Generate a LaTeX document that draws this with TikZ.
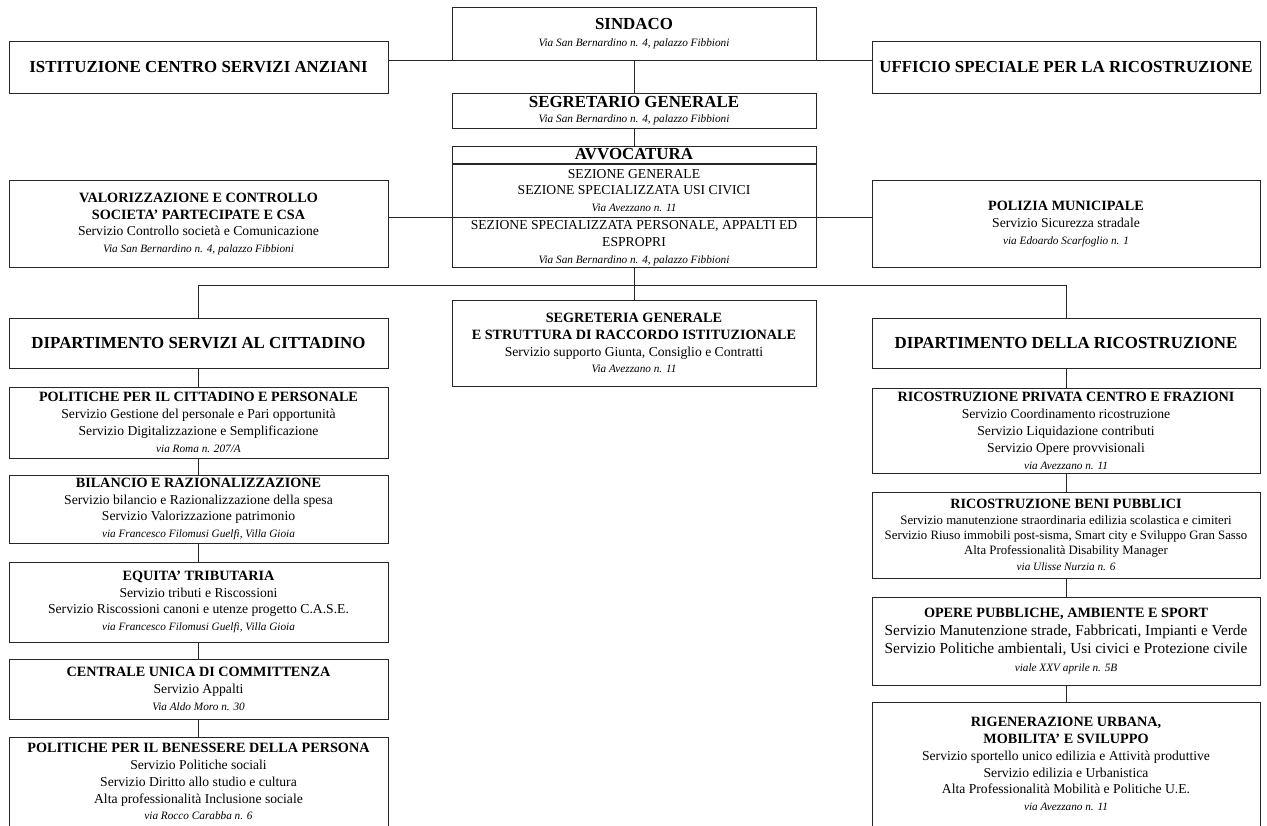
\documentclass[tikz,border=0pt]{standalone}
\usepackage{fontspec}
\setmainfont{Liberation Serif}
\usepackage{tikz}
\usetikzlibrary{positioning}
\newcommand{\pxu}{0.025cm}
\newcommand{\deptfont}{\fontsize{12}{12}\selectfont\bfseries}
\newcommand{\titfont}{\fontsize{10.1}{12}\selectfont\bfseries}
\newcommand{\srvfont}{\fontsize{9.7}{12}\selectfont}
\newcommand{\smlfont}{\fontsize{9.1}{10.9}\selectfont}
\newcommand{\bigfont}{\fontsize{10.9}{12.8}\selectfont}
\newcommand{\adrfont}{\fontsize{8}{12}\selectfont\itshape}
\tikzset{box/.style={draw=black!85, line width=0.7pt, align=center, inner sep=0pt},
  colL/.style={box, minimum width=379*\pxu},
  colM/.style={box, minimum width=364*\pxu},
  colR/.style={box, minimum width=388*\pxu},
  link/.style={draw=black!85, line width=0.7pt}}

\begin{document}
\begin{tikzpicture}[x=\pxu, y=-\pxu, font=\srvfont]
  \clip (0,0) rectangle (1267,825);
  % Vertice
  \node[colM, minimum height=53*\pxu] (sind) at (634,33.5)
    {{\deptfont SINDACO}\\{\adrfont Via San Bernardino n. 4, palazzo Fibbioni}};
  \node[colL, minimum height=52*\pxu] (ist) at (198.5,67)
    {\deptfont ISTITUZIONE CENTRO SERVIZI ANZIANI};
  \node[colR, minimum height=52*\pxu] (uff) at (1066,67)
    {\deptfont UFFICIO SPECIALE PER LA RICOSTRUZIONE};
  \node[colM, minimum height=35*\pxu] (segrg) at (634,110.5)
    {{\deptfont SEGRETARIO GENERALE}\\[-1.5pt]{\adrfont Via San Bernardino n. 4, palazzo Fibbioni}};

  % Avvocatura
  \node[colM, minimum height=17*\pxu] (avv) at (634,154.5) {\deptfont AVVOCATURA};
  \node[colM, minimum height=53*\pxu, below=0pt of avv] (avvA)
    {SEZIONE GENERALE\\SEZIONE SPECIALIZZATA USI CIVICI\\{\adrfont Via Avezzano n. 11}};
  \node[colM, minimum height=50*\pxu, below=0pt of avvA] (avvB)
    {SEZIONE SPECIALIZZATA PERSONALE, APPALTI ED\\ESPROPRI\\{\adrfont Via San Bernardino n. 4, palazzo Fibbioni}};

  \node[colL, minimum height=87*\pxu] (valor) at (198.5,224)
    {{\titfont VALORIZZAZIONE E CONTROLLO}\\{\titfont SOCIETA' PARTECIPATE E CSA}\\Servizio Controllo società e Comunicazione\\{\adrfont Via San Bernardino n. 4, palazzo Fibbioni}};
  \node[colR, minimum height=87*\pxu] (pol) at (1066,224)
    {{\titfont POLIZIA MUNICIPALE}\\Servizio Sicurezza stradale\\{\adrfont via Edoardo Scarfoglio n. 1}};

  % Dipartimenti
  \node[colL, minimum height=50*\pxu] (dipsc) at (198.5,343) {\deptfont DIPARTIMENTO SERVIZI AL CITTADINO};
  \node[colM, minimum height=86*\pxu] (segr) at (634,343)
    {{\titfont SEGRETERIA GENERALE}\\{\titfont E STRUTTURA DI RACCORDO ISTITUZIONALE}\\Servizio supporto Giunta, Consiglio e Contratti\\{\adrfont Via Avezzano n. 11}};
  \node[colR, minimum height=50*\pxu] (diprc) at (1066,343) {\deptfont DIPARTIMENTO DELLA RICOSTRUZIONE};

  % Settori servizi al cittadino
  \node[colL, minimum height=71*\pxu] (pcp) at (198.5,422.5)
    {{\titfont POLITICHE PER IL CITTADINO E PERSONALE}\\Servizio Gestione del personale e Pari opportunità\\Servizio Digitalizzazione e Semplificazione\\{\adrfont via Roma n. 207/A}};
  \node[colL, minimum height=68*\pxu] (bil) at (198.5,509)
    {{\titfont BILANCIO E RAZIONALIZZAZIONE}\\Servizio bilancio e Razionalizzazione della spesa\\Servizio Valorizzazione patrimonio\\{\adrfont via Francesco Filomusi Guelfi, Villa Gioia}};
  \node[colL, minimum height=80*\pxu] (equ) at (198.5,602)
    {{\titfont EQUITA' TRIBUTARIA}\\Servizio tributi e Riscossioni\\Servizio Riscossioni canoni e utenze progetto C.A.S.E.\\{\adrfont via Francesco Filomusi Guelfi, Villa Gioia}};
  \node[colL, minimum height=60*\pxu] (cuc) at (198.5,689)
    {{\titfont CENTRALE UNICA DI COMMITTENZA}\\Servizio Appalti\\{\adrfont Via Aldo Moro n. 30}};
  \node[colL, minimum height=89*\pxu] (pbp) at (198.5,781.5)
    {{\titfont POLITICHE PER IL BENESSERE DELLA PERSONA}\\Servizio Politiche sociali\\Servizio Diritto allo studio e cultura\\Alta professionalità Inclusione sociale\\{\adrfont via Rocco Carabba n. 6}};

  % Settori ricostruzione
  \node[colR, minimum height=85*\pxu] (rpc) at (1066,431)
    {{\titfont RICOSTRUZIONE PRIVATA CENTRO E FRAZIONI}\\Servizio Coordinamento ricostruzione\\Servizio Liquidazione contributi\\Servizio Opere provvisionali\\{\adrfont via Avezzano n. 11}};
  \node[colR, minimum height=86*\pxu, font=\smlfont] (rbp) at (1066,535)
    {{\titfont RICOSTRUZIONE BENI PUBBLICI}\\Servizio manutenzione straordinaria edilizia scolastica e cimiteri\\Servizio Riuso immobili post-sisma, Smart city e Sviluppo Gran Sasso\\Alta Professionalità Disability Manager\\{\adrfont via Ulisse Nurzia n. 6}};
  \node[colR, minimum height=88*\pxu, font=\bigfont] (opa) at (1066,641)
    {{\titfont OPERE PUBBLICHE, AMBIENTE E SPORT}\\Servizio Manutenzione strade, Fabbricati, Impianti e Verde\\Servizio Politiche ambientali, Usi civici e Protezione civile\\{\adrfont viale XXV aprile n. 5B}};
  \node[colR, minimum height=124*\pxu] (rig) at (1066,764)
    {{\titfont RIGENERAZIONE URBANA,}\\{\titfont MOBILITA' E SVILUPPO}\\Servizio sportello unico edilizia e Attività produttive\\Servizio edilizia e Urbanistica\\Alta Professionalità Mobilità e Politiche U.E.\\{\adrfont via Avezzano n. 11}};

  % Collegamenti
  \draw[link] (ist.east |- sind.south) -- (uff.west |- sind.south);
  \draw[link] (sind) -- (segrg);
  \draw[link] (segrg) -- (avv);
  \draw[link] (valor.east |- avvB.north) -- (pol.west |- avvB.north);
  \coordinate (bus) at (634,285);
  \draw[link] (avvB.south) -- (bus) -- (segr.north);
  \draw[link] (dipsc.north) |- (bus) -| (diprc.north);
  \draw[link] (dipsc) -- (pcp);
  \draw[link] (pcp) -- (bil);
  \draw[link] (bil) -- (equ);
  \draw[link] (equ) -- (cuc);
  \draw[link] (cuc) -- (pbp);
  \draw[link] (diprc) -- (rpc);
  \draw[link] (rpc) -- (rbp);
  \draw[link] (rbp) -- (opa);
  \draw[link] (opa) -- (rig);
\end{tikzpicture}
\end{document}
